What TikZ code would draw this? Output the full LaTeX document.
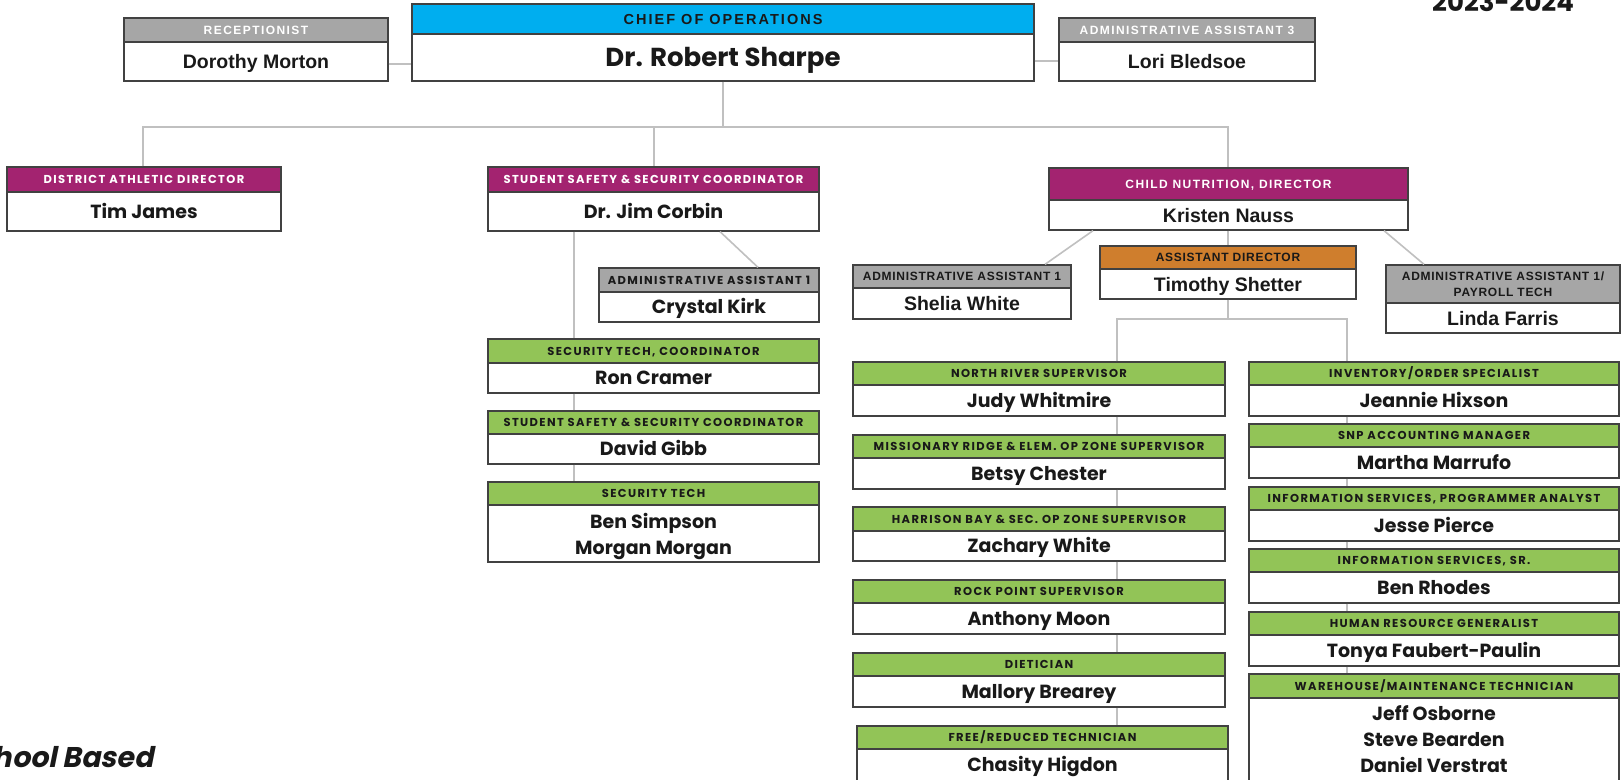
\documentclass[tikz,border=0pt]{standalone}
\usepackage{fontspec}
\setmainfont{Poppins}
\newfontfamily\fPop{Poppins}
\newfontfamily\fPopLS{Poppins}[LetterSpace=12]
\newfontfamily\fLib{Liberation Sans}
\newfontfamily\fLibLS{Liberation Sans}[LetterSpace=12]
\newfontfamily\fLibLSc{Liberation Sans}[LetterSpace=14]
\newfontfamily\fLibLSn{Liberation Sans}[LetterSpace=6]
\newfontfamily\fSlant{Poppins}[FakeSlant=0.2]
\usetikzlibrary{fit}
\definecolor{cblue}{RGB}{0,174,239}
\definecolor{cmag}{RGB}{163,35,112}
\definecolor{cgray}{RGB}{166,166,166}
\definecolor{corange}{RGB}{207,126,45}
\definecolor{cgreen}{RGB}{146,196,87}
\definecolor{cline}{RGB}{192,192,192}
\definecolor{cborder}{RGB}{65,65,65}
\definecolor{cdark}{RGB}{25,25,25}
\tikzset{
 conn/.style={draw=cline, line width=1.6pt},
 frame/.style={draw=cborder, line width=1.3pt, inner sep=0pt},
 hA/.style={font=\fPopLS\bfseries\fontsize{11.5}{13}\selectfont, text height=8pt, text depth=0pt, inner sep=0pt},
 hB/.style={font=\fLibLS\bfseries\fontsize{12}{14}\selectfont, text height=8.6pt, text depth=0pt, inner sep=0pt},
 hBn/.style={font=\fLibLSn\bfseries\fontsize{12}{14}\selectfont, text height=8.6pt, text depth=0pt, inner sep=0pt},
 hB2/.style={font=\fLibLSn\bfseries\fontsize{12}{16.5}\selectfont, align=center, text depth=0pt, inner sep=0pt},
 hC/.style={font=\fLibLSc\bfseries\fontsize{14.5}{16}\selectfont, text height=10.4pt, text depth=0pt, inner sep=0pt},
 nA/.style={font=\fPop\bfseries\fontsize{19}{26}\selectfont, text height=13.3pt, text depth=0pt, inner sep=0pt},
 nAm/.style={font=\fPop\bfseries\fontsize{19}{26}\selectfont, align=center, text depth=0pt, inner sep=0pt},
 nB/.style={font=\fLib\bfseries\fontsize{19.5}{26}\selectfont, text height=14pt, text depth=0pt, inner sep=0pt},
 nC/.style={font=\fPop\bfseries\fontsize{26}{30}\selectfont, text height=18.2pt, text depth=0pt, inner sep=0pt},
 grayW fill/.style={fill=cgray}, grayW head/.style={hB, text=white}, grayW name/.style={nB, text=cdark},
 blue fill/.style={fill=cblue}, blue head/.style={hC, text=cdark}, blue name/.style={nC, text=cdark},
 magA fill/.style={fill=cmag}, magA head/.style={hA, text=white}, magA name/.style={nA, text=cdark},
 magB fill/.style={fill=cmag}, magB head/.style={hB, text=white}, magB name/.style={nB, text=cdark},
 grayA fill/.style={fill=cgray}, grayA head/.style={hA, text=cdark}, grayA name/.style={nA, text=cdark},
 grayB fill/.style={fill=cgray}, grayB head/.style={hBn, text=cdark}, grayB name/.style={nB, text=cdark},
 grayBB fill/.style={fill=cgray}, grayBB head/.style={hB2, text=cdark}, grayBB name/.style={nB, text=cdark},
 orange fill/.style={fill=corange}, orange head/.style={hBn, text=cdark}, orange name/.style={nB, text=cdark},
 green fill/.style={fill=cgreen}, green head/.style={hA, text=cdark}, green name/.style={nA, text=cdark},
 greenM fill/.style={fill=cgreen}, greenM head/.style={hA, text=cdark}, greenM name/.style={nAm, text=cdark},
}
% #1 name, #2 x1, #3 y1 (top), #4 x2, #5 header bottom, #6 y2 (bottom), #7 kind, #8 header, #9 body
\newcommand\obox[9]{%
 \fill[#7 fill] (#2,#3) rectangle (#4,#5);
 \draw[cborder, line width=1.3pt] (#2,#5) -- (#4,#5);
 \node[frame, fit={(#2,#3) (#4,#6)}] (#1) {};
 \node[#7 head] (#1-h) at ({(#2+#4)/2},{(#3+#5)/2}) {#8};
 \node[#7 name] (#1-n) at ({(#2+#4)/2},{(#5+#6)/2}) {#9};
}
\begin{document}
\begin{tikzpicture}[x=1pt, y=-1pt]
\useasboundingbox (0,0) rectangle (1624,779);
\clip (0,0) rectangle (1624,779);
\fill[white] (0,0) rectangle (1624,779);

% top row
\obox{rec}{124}{18}{388}{42}{81}{grayW}{RECEPTIONIST}{Dorothy Morton}
\obox{chief}{412}{4}{1034}{34}{81}{blue}{CHIEF OF OPERATIONS}{Dr. Robert Sharpe}
\obox{lori}{1059}{18}{1315}{42}{81}{grayW}{ADMINISTRATIVE ASSISTANT 3}{Lori Bledsoe}

% second row
\obox{tim}{7}{167}{281}{192}{231}{magA}{DISTRICT ATHLETIC DIRECTOR}{Tim James}
\obox{corbin}{488}{167}{819}{192}{231}{magA}{STUDENT SAFETY \& SECURITY COORDINATOR}{Dr. Jim Corbin}
\obox{nauss}{1049}{168}{1408}{200}{230}{magB}{CHILD NUTRITION, DIRECTOR}{Kristen Nauss}

% Corbin subtree
\obox{kirk}{599}{268}{819}{292}{322}{grayA}{ADMINISTRATIVE ASSISTANT 1}{Crystal Kirk}
\obox{cramer}{488}{339}{819}{363}{393}{green}{SECURITY TECH, COORDINATOR}{Ron Cramer}
\obox{gibb}{488}{411}{819}{434}{464}{green}{STUDENT SAFETY \& SECURITY COORDINATOR}{David Gibb}
\obox{sectech}{488}{482}{819}{505}{562}{greenM}{SECURITY TECH}{Ben Simpson\\Morgan Morgan}

% Nauss subtree
\obox{shelia}{853}{265}{1071}{288}{319}{grayB}{ADMINISTRATIVE ASSISTANT 1}{Shelia White}
\obox{shetter}{1100}{246}{1356}{269}{299}{orange}{ASSISTANT DIRECTOR}{Timothy Shetter}
\obox{farris}{1386}{265}{1620}{303}{333}{grayBB}{ADMINISTRATIVE ASSISTANT 1/\\PAYROLL TECH}{Linda Farris}

% left column
\obox{judy}{853}{362}{1225}{385}{416}{green}{NORTH RIVER SUPERVISOR}{Judy Whitmire}
\obox{betsy}{853}{435}{1225}{458}{489}{green}{MISSIONARY RIDGE \& ELEM. OP ZONE SUPERVISOR}{Betsy Chester}
\obox{zach}{853}{507}{1225}{531}{561}{green}{HARRISON BAY \& SEC. OP ZONE SUPERVISOR}{Zachary White}
\obox{moon}{853}{580}{1225}{603}{634}{green}{ROCK POINT SUPERVISOR}{Anthony Moon}
\obox{mallory}{853}{653}{1225}{676}{707}{green}{DIETICIAN}{Mallory Brearey}
\obox{chasity}{857}{726}{1228}{749}{781}{green}{FREE/REDUCED TECHNICIAN}{Chasity Higdon}

% right column
\obox{jeannie}{1249}{362}{1619}{385}{416}{green}{INVENTORY/ORDER SPECIALIST}{Jeannie Hixson}
\obox{martha}{1249}{424}{1619}{447}{478}{green}{SNP ACCOUNTING MANAGER}{Martha Marrufo}
\obox{jesse}{1249}{487}{1619}{510}{541}{green}{INFORMATION SERVICES, PROGRAMMER ANALYST}{Jesse Pierce}
\obox{rhodes}{1249}{549}{1619}{572}{603}{green}{INFORMATION SERVICES, SR.}{Ben Rhodes}
\obox{tonya}{1249}{612}{1619}{635}{666}{green}{HUMAN RESOURCE GENERALIST}{Tonya Faubert-Paulin}
\obox{wareh}{1249}{674}{1619}{698}{781}{greenM}{WAREHOUSE/MAINTENANCE TECHNICIAN}{Jeff Osborne\\Steve Bearden\\Daniel Verstrat}

% free texts
\node[font=\fPop\bfseries\fontsize{26}{30}\selectfont, anchor=base west, inner sep=0pt, text=cdark] (year) at (1432,12) {2023-2024};
\node[font=\fSlant\bfseries\fontsize{28.5}{32}\selectfont, anchor=base east, inner sep=0pt, text=cdark] (school) at (154,767) {School Based};

% connectors
\coordinate (yl) at (0,64);
\coordinate (yr) at (0,61);
\draw[conn] (rec.east |- yl) -- (chief.west |- yl);
\draw[conn] (chief.east |- yr) -- (lori.west |- yr);
\coordinate (bj) at (723,127);
\coordinate (b1) at (143,127);
\coordinate (b2) at (654,127);
\coordinate (b3) at (1228,127);
\draw[conn] (chief.south -| bj) -- (bj);
\draw[conn] (tim.north -| b1) -- (b1) -- (b3) -- (nauss.north -| b3);
\draw[conn] (b2) -- (corbin.north -| b2);

\coordinate (cv) at (574,0);
\draw[conn] (corbin.south -| cv) -- (cramer.north -| cv);
\draw[conn] (cramer.south -| cv) -- (gibb.north -| cv);
\draw[conn] (gibb.south -| cv) -- (sectech.north -| cv);
\coordinate (cd1) at (720,0);
\coordinate (cd2) at (758,0);
\draw[conn] (corbin.south -| cd1) -- (kirk.north -| cd2);

\coordinate (nd1) at (1093,0);
\coordinate (nd2) at (1045,0);
\coordinate (nv) at (1228,0);
\coordinate (nd3) at (1384,0);
\coordinate (nd4) at (1424,0);
\draw[conn] (nauss.south -| nd1) -- (shelia.north -| nd2);
\draw[conn] (nauss.south -| nv) -- (shetter.north -| nv);
\draw[conn] (nauss.south -| nd3) -- (farris.north -| nd4);

\coordinate (hl) at (1117,319);
\coordinate (hr) at (1347,319);
\coordinate (hm) at (1228,319);
\draw[conn] (shetter.south -| hm) -- (hm);
\draw[conn] (judy.north -| hl) -- (hl) -- (hr) -- (jeannie.north -| hr);
\foreach \a/\b in {judy/betsy, betsy/zach, zach/moon, moon/mallory, mallory/chasity}
  \draw[conn] (\a.south -| hl) -- (\b.north -| hl);
\foreach \a/\b in {jeannie/martha, martha/jesse, jesse/rhodes, rhodes/tonya, tonya/wareh}
  \draw[conn] (\a.south -| hr) -- (\b.north -| hr);
\end{tikzpicture}
\end{document}
